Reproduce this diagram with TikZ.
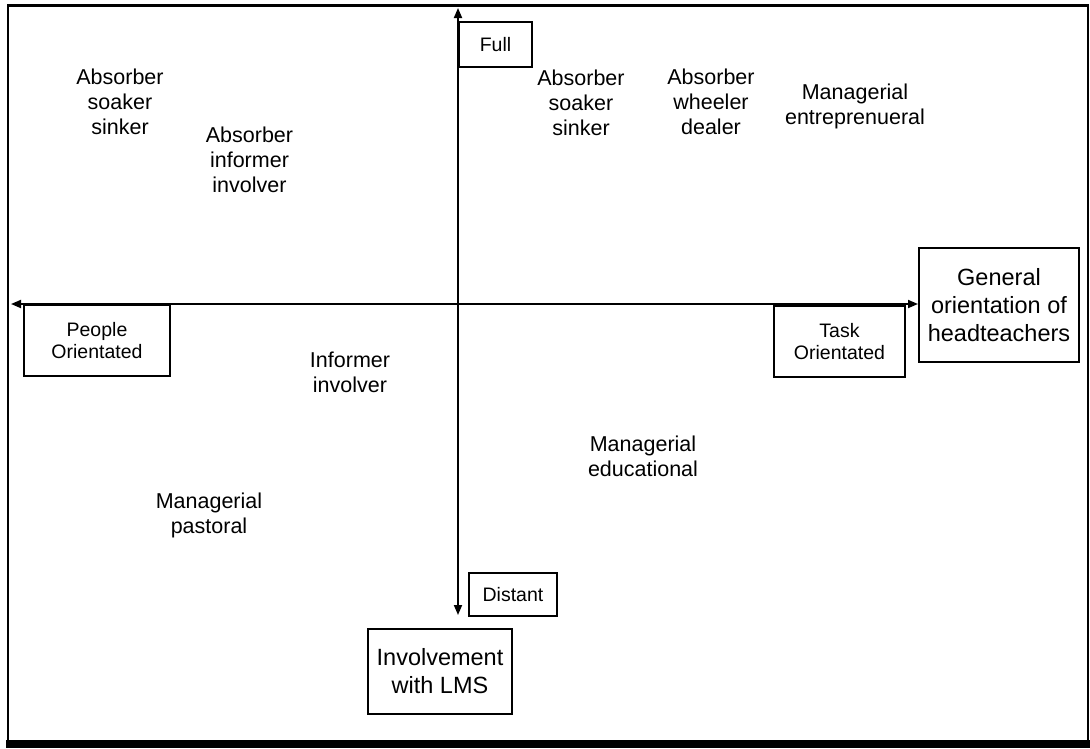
\documentclass[tikz,border=0pt]{standalone}
\usepackage{fontspec}
\setmainfont{Liberation Sans}
\usetikzlibrary{arrows.meta}
\tikzset{
  lbl/.style={inner sep=0pt, anchor=base, align=center, font=\fontsize{21.5}{25}\selectfont},
  smallbox/.style={draw, line width=2pt, inner sep=0pt, align=center, font=\fontsize{19.5}{22}\selectfont},
  bigbox/.style={draw, line width=2pt, inner sep=0pt, align=center, font=\fontsize{23.5}{28}\selectfont},
  axis/.style={line width=1.8pt, {Triangle[length=10pt,width=8pt]}-{Triangle[length=10pt,width=8pt]}},
  frame/.style={line width=2.2pt}
}
\begin{document}
\begin{tikzpicture}[x=1pt,y=-1pt]
\useasboundingbox (0,0) rectangle (1090,748);
% frame
\draw[frame] (8,742) -- (8,5.5) -- (1088,5.5) -- (1088,742);
\fill (6,740) rectangle (1090,748);
% boxes
\node[smallbox, minimum width=73pt, minimum height=45pt] (full) at (495.5,44.5) {Full};
\node[smallbox, minimum width=146pt, minimum height=71pt] (people) at (97,340.5) {People\\Orientated};
\node[smallbox, minimum width=131pt, minimum height=71pt] (task) at (839.5,341.5) {Task\\Orientated};
\node[smallbox, minimum width=88pt, minimum height=43pt] (distant) at (513,594.5) {Distant};
\node[bigbox, minimum width=160pt, minimum height=114pt] (gen) at (999,305) {General\\orientation of\\headteachers};
\node[bigbox, minimum width=144pt, minimum height=85pt] (inv) at (440,671.5) {Involvement\\with LMS};
% axes
\coordinate (left) at (11,304);
\coordinate (right) at (gen.west |- left);
\coordinate (top) at (458,8);
\coordinate (bottom) at (458,615);
\draw[axis] (left) -- (right);
\draw[axis] (top) -- (bottom);
% labels (anchored at the baseline of the last line)
\node[lbl] (a1) at (120,134) {Absorber\\soaker\\sinker};
\node[lbl] (a2) at (249.5,192) {Absorber\\informer\\involver};
\node[lbl] (a3) at (581,135) {Absorber\\soaker\\sinker};
\node[lbl] (a4) at (711,134) {Absorber\\wheeler\\dealer};
\node[lbl] (a5) at (855,124) {Managerial\\entreprenueral};
\node[lbl] (a6) at (350,392) {Informer\\involver};
\node[lbl] (a7) at (643,476) {Managerial\\educational};
\node[lbl] (a8) at (209,533) {Managerial\\pastoral};
\end{tikzpicture}
\end{document}
